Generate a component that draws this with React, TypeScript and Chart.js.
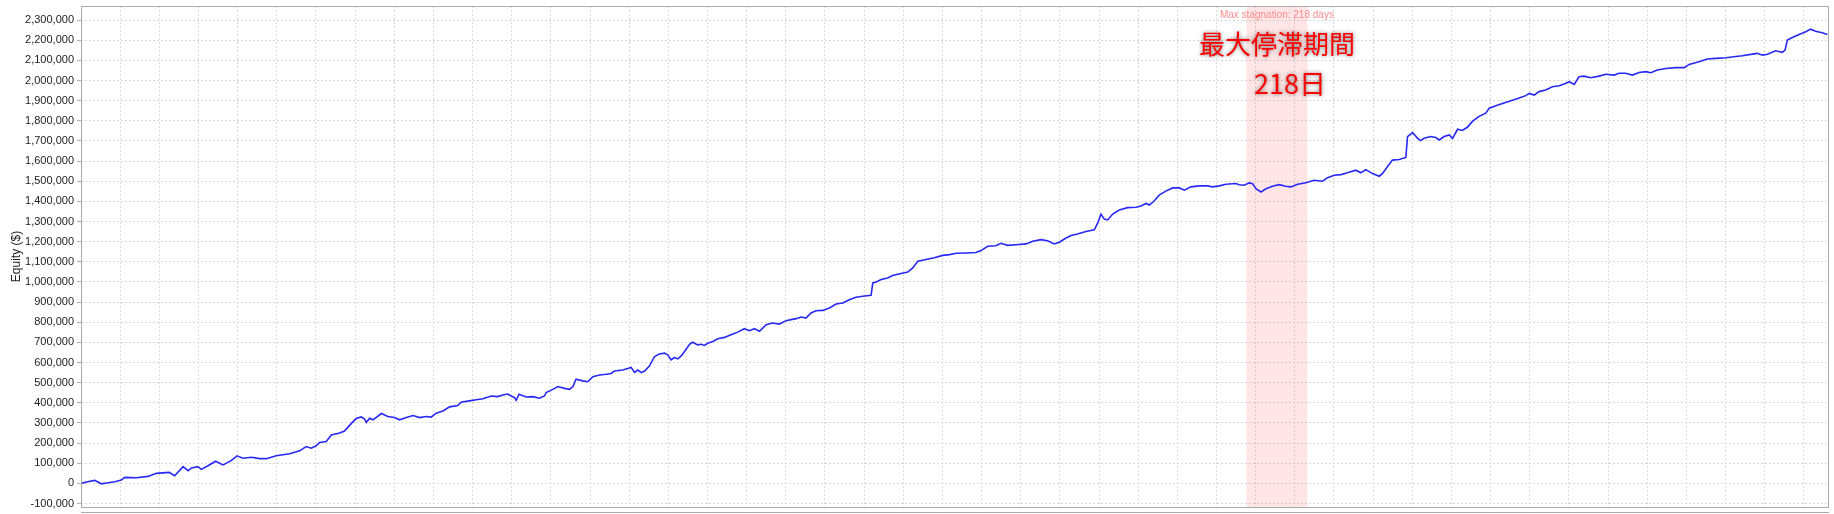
import React, { useEffect, useRef } from 'react';
import { Chart, registerables } from 'chart.js';

Chart.register(...registerables);

// Day number since the start of the back-test
const days: number[] = [
  0, 19, 49, 73, 97, 121, 144, 156, 198, 240, 269, 315, 335, 365, 383, 395, 418, 430, 454, 481,
  508, 537, 558, 579, 609, 639, 663, 698, 746, 782, 805, 823, 841, 853, 877, 895, 925, 942, 966, 984,
  1002, 1014, 1020,
  1032, 1044, 1074, 1097, 1121, 1139, 1163, 1187, 1211, 1234, 1252, 1270, 1294, 1318, 1347, 1359, 1389, 1413,
  1437, 1467, 1490, 1508, 1526, 1538, 1550, 1556, 1566, 1592, 1616, 1639, 1657, 1663, 1687, 1705, 1729, 1747,
  1759, 1770, 1794, 1812, 1830, 1854, 1878, 1895, 1907, 1937, 1955, 1967, 1979, 1991, 2003, 2015, 2033, 2050,
  2068, 2086, 2098, 2110, 2122, 2134, 2146, 2158, 2176, 2187, 2205, 2217, 2229, 2241, 2259, 2277, 2301, 2324,
  2348, 2372, 2390, 2408, 2426, 2450, 2473, 2497, 2521, 2539, 2557, 2575, 2592, 2610, 2628, 2652, 2676, 2700,
  2724, 2747, 2771, 2795, 2825, 2831, 2843, 2861, 2884, 2902, 2932, 2956, 2974, 2992, 3021, 3051, 3081,
  3105, 3129, 3164, 3200, 3218, 3242, 3271, 3289, 3313, 3343, 3379, 3403, 3432, 3456, 3480, 3498, 3522, 3540,
  3563, 3593, 3623, 3635, 3647, 3659, 3671, 3688, 3712, 3742, 3772, 3790, 3808, 3820, 3837, 3855, 3879, 3903,
  3927, 3945, 3968, 3998, 4028, 4046, 4070, 4094, 4129,
  4141, 4159, 4177, 4189, 4201, 4219, 4237, 4260, 4284, 4308, 4326, 4350, 4380, 4409, 4439, 4457, 4481, 4505,
  4528, 4558, 4576, 4594, 4618, 4642, 4653, 4671, 4689, 4713, 4737, 4743, 4761, 4779, 4790, 4802, 4826, 4844,
  4856, 4874, 4892, 4904, 4922, 4939, 4957, 4975, 4999, 5023, 5035, 5064, 5088, 5118, 5142, 5166,
  5178, 5196, 5213, 5237, 5261, 5285, 5303, 5321, 5339, 5356, 5374, 5398, 5428, 5452, 5482, 5499, 5523, 5547,
  5571, 5595, 5613, 5636, 5666, 5702, 5732, 5750, 5785, 5815, 5845, 5881, 5910, 5940, 5976, 5994, 6012, 6030,
  6059, 6083, 6093, 6101, 6119, 6143, 6167, 6184, 6202, 6226, 6244,
];

// Equity in thousands of dollars
const equityK: number[] = [
  0, 7, 15, -2, 3, 8, 17, 30, 28, 35, 50, 55, 38, 83, 63, 77, 83, 70, 88, 110,
  92, 113, 137, 125, 130, 123, 123, 137, 147, 162, 183, 175, 187, 203, 208, 240, 250, 260, 297, 322,
  330, 320, 303,
  324, 316, 347, 332, 327, 316, 327, 337, 327, 332, 329, 349, 360, 380, 387, 403, 410, 415,
  420, 434, 431, 439, 444, 434, 426, 413, 443, 429, 431, 423, 434, 451, 467, 481, 472, 467,
  481, 517, 509, 505, 530, 538, 542, 546, 558, 563, 571, 576, 551, 563, 550, 558, 584, 629,
  643, 647, 638, 613, 625, 618, 633, 655, 691, 701, 688, 691, 685, 696, 705, 718, 725, 738,
  751, 768, 758, 768, 755, 788, 796, 791, 808, 813, 818, 826, 821, 846, 857, 859, 871, 891,
  896, 912, 924, 929, 934, 995, 1000, 1012, 1020, 1032, 1042, 1049, 1070, 1103, 1112, 1120, 1132,
  1136, 1143, 1144, 1146, 1156, 1177, 1180, 1192, 1182, 1185, 1189, 1202, 1210, 1205, 1189, 1197, 1218, 1231,
  1238, 1251, 1259, 1292, 1336, 1312, 1308, 1336, 1357, 1369, 1371, 1377, 1390, 1382, 1402, 1431, 1451, 1467,
  1467, 1456, 1472, 1477, 1477, 1472, 1477, 1485, 1489,
  1483, 1480, 1492, 1488, 1463, 1447, 1463, 1475, 1483, 1475, 1472, 1485, 1493, 1505, 1500, 1518, 1530, 1533,
  1542, 1555, 1542, 1558, 1538, 1525, 1538, 1572, 1605, 1608, 1618, 1722, 1742, 1713, 1702, 1713, 1722, 1717,
  1705, 1722, 1730, 1713, 1758, 1752, 1768, 1797, 1822, 1838, 1863, 1877, 1888, 1902, 1913, 1925,
  1936, 1928, 1945, 1953, 1969, 1974, 1983, 1994, 1981, 2019, 2022, 2014, 2022, 2031, 2027, 2036, 2036, 2027,
  2040, 2044, 2039, 2052, 2060, 2064, 2064, 2080, 2093, 2107, 2110, 2113, 2118, 2123, 2131, 2135, 2126, 2130,
  2148, 2140, 2151, 2201, 2214, 2229, 2242, 2255, 2245, 2237, 2229,
];

// Y-axis tick values ($)
const yTickValues: number[] = [
  -100000, 0, 100000, 200000, 300000, 400000, 500000, 600000, 700000, 800000, 900000, 1000000,
  1100000, 1200000, 1300000, 1400000, 1500000, 1600000, 1700000, 1800000, 1900000, 2000000,
  2100000, 2200000, 2300000,
];

const stagnationStartDay = 4167;
const stagnationEndDay = 4385;
const stagnationLabel = 'Max stagnation: 218 days';
const annotationLines = ['最大停滞期間', '218日'];
const yAxisTitle = 'Equity ($)';

const yMin = -117000;
const yMax = 2370000;
const xMin = 0;
const xMax = 6250;
const xGridStep = 140;
const xGridCount = 45;

const SANS = '"Liberation Sans", Arial, sans-serif';

const overlayPlugin = {
  id: 'overlay',
  beforeDatasetsDraw(chart: any) {
    const { ctx, chartArea: a, scales } = chart;
    const x0 = scales.x.getPixelForValue(stagnationStartDay);
    const x1 = scales.x.getPixelForValue(stagnationEndDay);
    ctx.save();
    ctx.fillStyle = 'rgba(255, 0, 0, 0.1)';
    ctx.fillRect(x0, a.top, x1 - x0, a.bottom - a.top);
    ctx.restore();
  },
  afterDatasetsDraw(chart: any) {
    const { ctx, chartArea: a, scales } = chart;
    const x0 = scales.x.getPixelForValue(stagnationStartDay);
    const x1 = scales.x.getPixelForValue(stagnationEndDay);
    const cx = (x0 + x1) / 2;
    ctx.save();
    ctx.textAlign = 'center';
    ctx.textBaseline = 'middle';
    ctx.font = '10px ' + SANS;
    ctx.fillStyle = '#ff8c8c';
    ctx.fillText(stagnationLabel, cx, a.top + 9);

    ctx.font = '26px "Noto Sans CJK JP", sans-serif';
    ctx.shadowColor = 'rgba(0, 0, 0, 0.55)';
    ctx.shadowBlur = 4;
    ctx.fillStyle = '#ff0000';
    ctx.fillText(annotationLines[0], cx, a.top + 38.5);
    ctx.font = '27px "Noto Sans CJK JP", sans-serif';
    ctx.fillText(annotationLines[1], cx + 13, a.top + 78);
    ctx.restore();

    // plot frame and x-axis line
    ctx.save();
    ctx.strokeStyle = '#ababab';
    ctx.lineWidth = 1;
    ctx.strokeRect(Math.round(a.left) + 0.5, Math.round(a.top) + 0.5, Math.round(a.right - a.left) - 1, Math.round(a.bottom - a.top));
    ctx.beginPath();
    ctx.moveTo(a.left, Math.round(a.bottom) + 5.5);
    ctx.lineTo(a.right, Math.round(a.bottom) + 5.5);
    ctx.stroke();
    ctx.restore();
  },
};

export default function App() {
  const canvasRef = useRef<HTMLCanvasElement | null>(null);

  useEffect(() => {
    const canvas = canvasRef.current;
    if (!canvas) return;
    const points = days.map((d, i) => ({ x: d, y: equityK[i] * 1000 }));
    const chart = new Chart(canvas, {
      type: 'line',
      data: {
        datasets: [
          {
            label: 'Equity',
            data: points,
            borderColor: 'rgb(40, 40, 245)',
            borderWidth: 1.6,
            pointRadius: 0,
            tension: 0,
            fill: false,
          },
        ],
      },
      options: {
        responsive: false,
        animation: false,
        events: [],
        layout: { padding: { left: 0, right: 5, top: 6, bottom: 0 } },
        plugins: { legend: { display: false }, tooltip: { enabled: false } },
        scales: {
          x: {
            type: 'linear',
            min: xMin,
            max: xMax,
            ticks: { display: false },
            grid: { color: '#dadada', lineWidth: 1, drawTicks: false },
            border: { display: false, dash: [2, 2] },
            afterBuildTicks: (scale: any) => {
              const t: any[] = [];
              for (let i = 0; i < xGridCount; i++) t.push({ value: i * xGridStep });
              scale.ticks = t;
            },
            afterFit: (scale: any) => {
              scale.height = 7;
            },
          },
          y: {
            type: 'linear',
            min: yMin,
            max: yMax,
            ticks: {
              padding: 3,
              color: '#222',
              font: { family: SANS, size: 11 },
              callback: (v: any) => Number(v).toLocaleString('en-US'),
            },
            grid: { color: '#dadada', lineWidth: 1, drawTicks: true, tickLength: 4, tickColor: '#b0b0b0' },
            border: { display: false, dash: [2, 2] },
            title: {
              display: true,
              text: yAxisTitle,
              color: '#222',
              font: { family: SANS, size: 12 },
              padding: { top: 9, bottom: 0 },
            },
            afterBuildTicks: (scale: any) => {
              scale.ticks = yTickValues.map((v) => ({ value: v }));
            },
            afterFit: (scale: any) => {
              scale.width = 81;
              scale.paddingTop = 0;
              scale.paddingBottom = 0;
            },
          },
        },
      },
      plugins: [overlayPlugin],
    });
    return () => chart.destroy();
  }, []);

  return (
    <div style={{ position: 'absolute', left: 0, top: 0, width: 1834, height: 514, background: '#fff' }}>
      <canvas ref={canvasRef} width={1834} height={514} style={{ display: 'block' }} />
    </div>
  );
}
